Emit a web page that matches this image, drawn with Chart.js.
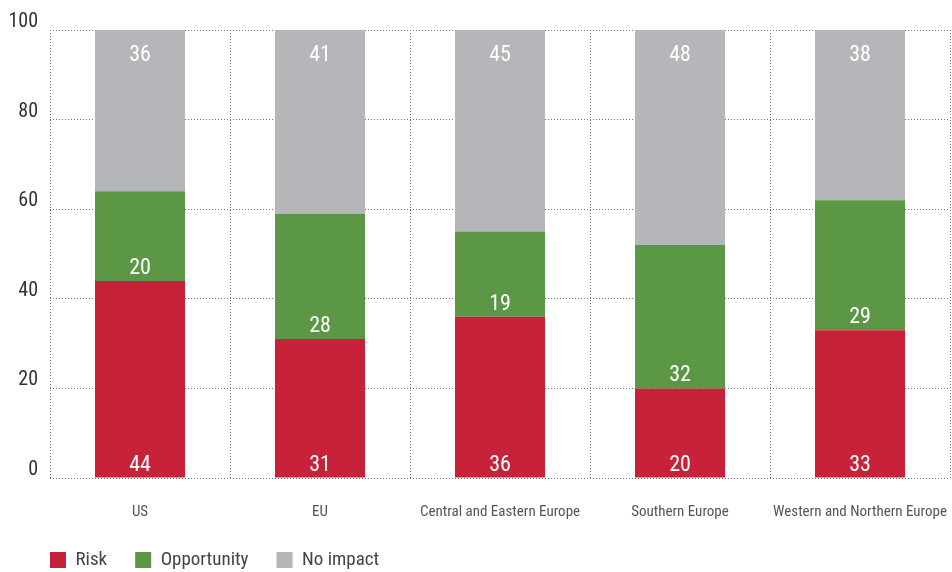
<!DOCTYPE html>
<html>
<head>
<meta charset="utf-8">
<script src="https://cdn.jsdelivr.net/npm/chart.js@4/dist/chart.umd.min.js"></script>
<style>
  html, body { margin: 0; padding: 0; background: #fff; }
  #wrap { width: 952px; height: 572px; }
</style>
</head>
<body>
<div id="wrap"><canvas id="chart"></canvas></div>
<script>
const regions = ['US', 'EU', 'Central and Eastern Europe', 'Southern Europe', 'Western and Northern Europe'];
const risk = [44, 31, 36, 20, 33];
const opportunity = [20, 28, 19, 32, 29];
const noImpact = [36, 41, 45, 48, 38];
const yTicks = [0, 20, 40, 60, 80, 100];

const FONT = "'Roboto Condensed', 'Liberation Sans', sans-serif";
const PLOT_BOTTOM = 478;

// draws the numbers inside each segment
const segmentLabels = {
  id: 'segmentLabels',
  afterDatasetsDraw(chart) {
    const ctx = chart.ctx;
    ctx.save();
    ctx.fillStyle = '#fff';
    ctx.font = '22px ' + FONT;
    ctx.textAlign = 'center';
    ctx.textBaseline = 'alphabetic';
    chart.data.datasets.forEach((ds, di) => {
      const meta = chart.getDatasetMeta(di);
      meta.data.forEach((bar, i) => {
        const y = di == 2 ? bar.y + 31 : bar.base - 7;
        ctx.fillText(ds.data[i], bar.x, y);
      });
    });
    ctx.restore();
  }
};

// put the legend row where it sits in the original (left at x=50, near the bottom)
const legendPlace = {
  id: 'legendPlace',
  beforeDraw(chart) {
    const lg = chart.legend;
    const pad = lg.options.labels.padding;
    const dx = (50 - pad) - lg.left;
    const dy = (552 - pad - 1.5) - lg.top;
    lg.left += dx; lg.right += dx;
    lg.top += dy; lg.bottom += dy;
  }
};

new Chart(document.getElementById('chart'), {
  type: 'bar',
  data: {
    labels: regions,
    datasets: [
      { label: 'Risk', data: risk, backgroundColor: '#c8223a' },
      { label: 'Opportunity', data: opportunity, backgroundColor: '#5c9745' },
      { label: 'No impact', data: noImpact, backgroundColor: '#b5b6b9' }
    ]
  },
  options: {
    responsive: true,
    maintainAspectRatio: false,
    animation: false,
    barPercentage: 0.5,
    categoryPercentage: 1.0,
    layout: { padding: { left: 0, right: 2, top: 30, bottom: -20 } },
    scales: {
      x: {
        stacked: true,
        afterFit: (scale) => {
          scale.height = scale.chart.height + 20 - PLOT_BOTTOM - scale.chart.legend.height;
          scale.paddingLeft = 0;
          scale.paddingRight = 0;
        },
        border: { display: false, dash: [1, 2] },
        grid: { color: '#777', lineWidth: 1, drawTicks: false },
        ticks: {
          color: '#555', font: { family: FONT, size: 15 },
          padding: 25, autoSkip: false, maxRotation: 0, minRotation: 0
        }
      },
      y: {
        stacked: true,
        min: 0, max: 100,
        afterFit: (scale) => { scale.width = 50; },
        afterBuildTicks: (scale) => { scale.ticks = yTicks.map(v => ({ value: v })); },
        border: { display: false, dash: [1, 2] },
        grid: { color: '#777', lineWidth: 1, drawTicks: false },
        ticks: {
          color: '#333', font: { family: FONT, size: 20 },
          padding: 12, labelOffset: -8
        }
      }
    },
    plugins: {
      legend: {
        position: 'bottom',
        align: 'start',
        labels: {
          color: '#444', font: { family: FONT, size: 19 },
          boxWidth: 16, boxHeight: 16, padding: 28
        }
      },
      tooltip: { enabled: false }
    }
  },
  plugins: [segmentLabels, legendPlace]
});
</script>
</body>
</html>
